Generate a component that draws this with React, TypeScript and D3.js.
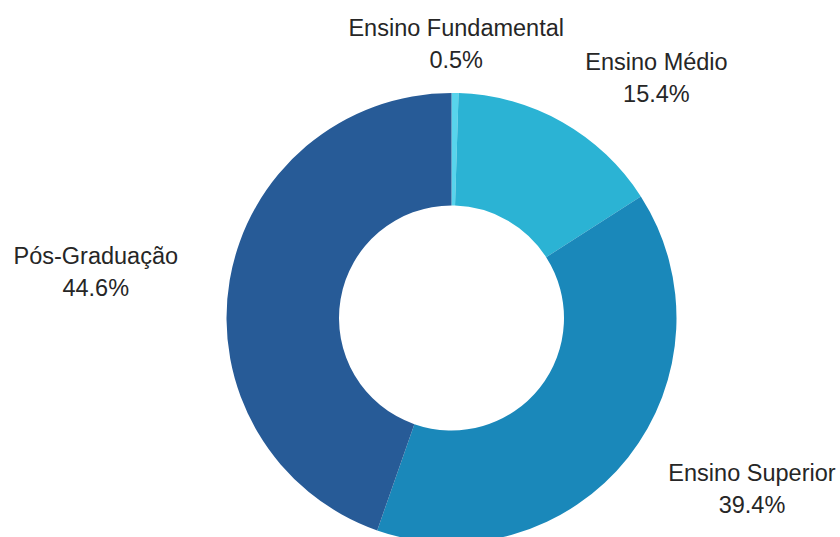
import { useEffect } from 'react';
import * as d3 from 'd3';

const CATEGORIES = ['Ensino Fundamental', 'Ensino Médio', 'Ensino Superior', 'Pós-Graduação'];
const VALUES = [0.5, 15.4, 39.4, 44.6];
const COLORS = ['#58d4ec', '#2bb3d4', '#1a88ba', '#275b97'];

const W = 840, H = 537;
const CX = 451.5, CY = 318;
const R_OUT = 225, R_IN = 112.5, R_LABEL = 300;
// layout nudges for the outside labels (pushed apart like the original)
const NUDGE: Record<string, [number, number]> = {
  'Ensino Fundamental': [0, 26],
  'Ensino Médio': [57, 21],
  'Ensino Superior': [65, -15],
  'Pós-Graduação': [-60, 4],
};
const FONT = '"Liberation Sans", Arial, sans-serif';
const FS = 23.5;
const LINE = 32;

const rows = CATEGORIES.map((c, i) => ({ name: c, value: VALUES[i], color: COLORS[i] }));

export default function App() {
  useEffect(() => { document.body.style.margin = '0'; }, []);

  const pie = d3.pie<typeof rows[number]>().sort(null).value(d => d.value);
  const arcs = pie(rows);
  const arc = d3.arc<d3.PieArcDatum<typeof rows[number]>>().innerRadius(R_IN).outerRadius(R_OUT);
  const labelArc = d3.arc<d3.PieArcDatum<typeof rows[number]>>().innerRadius(R_LABEL).outerRadius(R_LABEL);

  return (
    <svg width={W} height={H} style={{ display: 'block', background: '#fff' }}>
      <g transform={`translate(${CX},${CY})`}>
        {arcs.map(a => (
          <path key={a.data.name} d={arc(a) ?? ''} fill={a.data.color} />
        ))}
        {arcs.map(a => {
          const [lx, ly] = labelArc.centroid(a);
          const [nx, ny] = NUDGE[a.data.name];
          const x = lx + nx, y = ly + ny;
          return (
            <text key={'l-' + a.data.name} x={x} y={y - 8} textAnchor="middle"
              fontFamily={FONT} fontSize={FS} fill="#262626">
              <tspan x={x} dy={0}>{a.data.name}</tspan>
              <tspan x={x} dy={LINE}>{a.data.value.toFixed(1)}%</tspan>
            </text>
          );
        })}
      </g>
    </svg>
  );
}
